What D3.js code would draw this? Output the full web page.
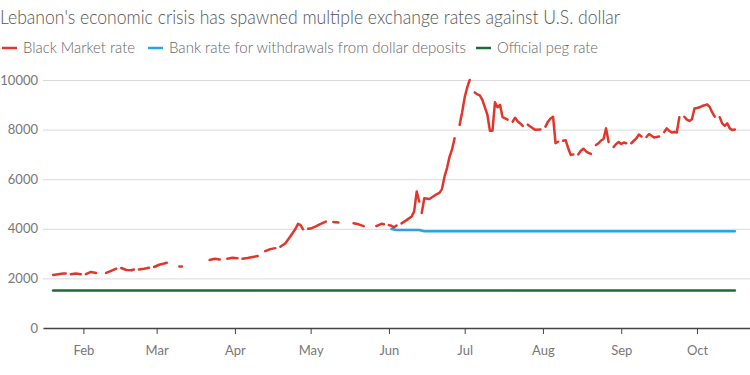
<!DOCTYPE html>
<html><head><meta charset="utf-8">
<script src="https://cdn.jsdelivr.net/npm/d3@7"></script>
<style>
body{margin:0;background:#fff;}
svg{display:block;font-family:Lato,"Open Sans",sans-serif;}
</style>
</head><body>
<svg id="chart" width="750" height="375"></svg>
<script>
// ---- data ----
const bmDates = [
"2020-01-20","2020-01-22","2020-01-24","2020-01-25","2020-01-26",
"2020-01-27","2020-01-29","2020-01-31","2020-02-01",
"2020-02-02","2020-02-04","2020-02-06","2020-02-08",
"2020-02-10","2020-02-12","2020-02-14","2020-02-15",
"2020-02-16","2020-02-18","2020-02-20","2020-02-21","2020-02-22",
"2020-02-23","2020-02-25","2020-02-27","2020-02-28",
"2020-02-29","2020-03-02","2020-03-04","2020-03-05","2020-03-07",
"2020-03-10","2020-03-11","2020-03-14",
"2020-03-22","2020-03-24","2020-03-26","2020-03-27",
"2020-03-29","2020-03-31","2020-04-02","2020-04-03",
"2020-04-04","2020-04-06","2020-04-08","2020-04-10","2020-04-11",
"2020-04-13","2020-04-15","2020-04-17","2020-04-18",
"2020-04-19","2020-04-21","2020-04-23","2020-04-25","2020-04-26","2020-04-27","2020-04-28","2020-04-29",
"2020-04-30","2020-05-01","2020-05-03","2020-05-05","2020-05-07","2020-05-08",
"2020-05-10","2020-05-12","2020-05-14",
"2020-05-18","2020-05-20","2020-05-22","2020-05-24",
"2020-05-27","2020-05-29","2020-05-30","2020-05-31",
"2020-06-01","2020-06-02","2020-06-03","2020-06-04","2020-06-05",
"2020-06-06","2020-06-08","2020-06-10","2020-06-11","2020-06-12","2020-06-13","2020-06-13T16:00Z",
"2020-06-14","2020-06-15","2020-06-17","2020-06-19","2020-06-20","2020-06-21","2020-06-22","2020-06-23","2020-06-24","2020-06-25","2020-06-26","2020-06-27","2020-06-28",
"2020-06-29","2020-06-30","2020-07-01","2020-07-02","2020-07-03","2020-07-04",
"2020-07-05","2020-07-06","2020-07-07","2020-07-08","2020-07-09","2020-07-10","2020-07-11","2020-07-12","2020-07-13","2020-07-14","2020-07-15","2020-07-16","2020-07-17","2020-07-18","2020-07-19",
"2020-07-20","2020-07-21","2020-07-22","2020-07-23","2020-07-24","2020-07-25",
"2020-07-26","2020-07-28","2020-07-29","2020-07-31","2020-08-01",
"2020-08-02","2020-08-03","2020-08-04","2020-08-05","2020-08-06","2020-08-07","2020-08-08",
"2020-08-09","2020-08-10","2020-08-11","2020-08-12","2020-08-13","2020-08-14",
"2020-08-15","2020-08-16","2020-08-17","2020-08-18","2020-08-19","2020-08-20","2020-08-21",
"2020-08-22","2020-08-23","2020-08-24","2020-08-25","2020-08-26","2020-08-27","2020-08-28",
"2020-08-29","2020-08-30","2020-08-31","2020-09-01","2020-09-02","2020-09-03","2020-09-04",
"2020-09-05","2020-09-06","2020-09-07","2020-09-08","2020-09-09","2020-09-10",
"2020-09-11","2020-09-12","2020-09-13","2020-09-14","2020-09-15","2020-09-16","2020-09-17",
"2020-09-18","2020-09-19","2020-09-20","2020-09-21","2020-09-22","2020-09-23","2020-09-24","2020-09-25",
"2020-09-26","2020-09-27","2020-09-28","2020-09-29","2020-09-30",
"2020-10-01","2020-10-02","2020-10-03","2020-10-04","2020-10-05","2020-10-06","2020-10-07","2020-10-08","2020-10-09",
"2020-10-10","2020-10-11","2020-10-12","2020-10-13","2020-10-14","2020-10-15","2020-10-16"
];
const bmValues = [
2140,2170,2200,2200,null,
2170,2200,2170,null,
2170,2260,2220,null,
2220,2300,2390,null,
2420,2340,2330,2360,null,
2360,2390,2430,null,
2460,2550,2600,2630,null,
2480,2480,null,
2740,2790,2760,null,
2790,2830,2810,null,
2790,2820,2860,2900,null,
3100,3180,3220,null,
3280,3420,3700,4000,4200,4150,3980,null,
4000,4010,4100,4200,4290,null,
4270,4250,null,
4220,4180,4110,null,
4110,4200,4180,null,
4150,4120,4060,4130,null,
4220,4350,4500,4700,5500,5100,null,
4640,5230,5200,5330,5400,5450,5600,6100,6450,6900,7200,7650,null,
8190,8700,9300,9700,10000,null,
9500,9420,9380,9200,8900,8600,7950,7950,9100,8900,9000,8500,8450,8400,null,
8320,8480,8330,8250,8150,null,
8200,8050,7990,8000,null,
8120,8320,8450,8520,7450,7510,null,
7550,7570,7250,6980,7000,null,
7000,7150,7230,7130,7060,7020,null,
7380,7450,7560,7620,8050,7500,null,
7300,7420,7500,7420,7480,7450,null,
7450,7550,7650,7800,7720,null,
7700,7820,7750,7680,7700,7720,null,
7900,8050,7950,7880,7900,7880,8500,null,
8520,8400,8350,8420,8850,
8870,8900,8950,8980,9020,8920,8700,8520,null,
8500,8250,8150,8250,8050,7980,8000
];
const bankDates = ["2020-06-02","2020-06-04","2020-06-13","2020-06-15","2020-10-16"];
const bankValues = [3990,3950,3950,3900,3900];
const pegDates = ["2020-01-20","2020-10-16"];
const pegValues = [1507.5,1507.5];
const yTicks = [0,2000,4000,6000,8000,10000];
const monthTicks = ["2020-02-01","2020-03-01","2020-04-01","2020-05-01","2020-06-01","2020-07-01","2020-08-01","2020-09-01","2020-10-01"];
const monthLabels = ["Feb","Mar","Apr","May","Jun","Jul","Aug","Sep","Oct"];
const seriesNames = ["Black Market rate","Bank rate for withdrawals from dollar deposits","Official peg rate"];
const seriesColors = ["#e2362c","#27a3e6","#1d6b35"];
const titleText = "Lebanon's economic crisis has spawned multiple exchange rates against U.S. dollar";

// ---- chart ----
const svg = d3.select("#chart");
const parse = s => d3.isoParse(s.length === 10 ? s + "T00:00Z" : s);
const x = d3.scaleUtc().domain([parse("2020-01-16"), parse("2020-10-22")]).range([43, 750]);
const y = d3.scaleLinear().domain([0, 10000]).range([328, 80]);

svg.append("text").attr("x", 0).attr("y", 24)
  .attr("font-size", 20).attr("font-weight", 300).attr("fill", "#555")
  .attr("textLength", 620).attr("lengthAdjust", "spacingAndGlyphs")
  .text(titleText);

// legend
const legendX = [2, 148, 476];
const legendW = [112, 297, 101];
seriesNames.forEach((n, i) => {
  const g = svg.append("g").attr("transform", `translate(${legendX[i]},48)`);
  g.append("line").attr("x1", 0).attr("x2", 15).attr("y1", 0).attr("y2", 0)
    .attr("stroke", seriesColors[i]).attr("stroke-width", 2.5);
  g.append("text").attr("x", 21).attr("y", 5).attr("font-size", 15).attr("font-weight", 300)
    .attr("fill", "#666").attr("textLength", legendW[i]).attr("lengthAdjust", "spacingAndGlyphs").text(n);
});

// y axis with gridlines
const yAxis = svg.append("g").attr("transform", "translate(43,0)")
  .call(d3.axisLeft(y).tickValues(yTicks).tickFormat(d3.format("d")).tickSize(-707).tickPadding(5));
yAxis.select(".domain").remove();
yAxis.selectAll(".tick line").attr("stroke", "#d9d9d9").attr("stroke-width", 1);
yAxis.selectAll(".tick text").attr("font-size", 13).attr("fill", "#777").attr("font-family", "Lato,sans-serif");

// x axis
const xAxis = svg.append("g").attr("transform", "translate(0,328)")
  .call(d3.axisBottom(x).tickValues(monthTicks.map(parse)).tickFormat((d, i) => monthLabels[i]).tickSize(6).tickSizeOuter(0).tickPadding(12));
xAxis.select(".domain").attr("stroke", "#444").attr("stroke-width", 1.5);
xAxis.selectAll(".tick line").attr("stroke", "#444");
xAxis.selectAll(".tick text").attr("font-size", 13).attr("fill", "#777").attr("font-family", "Lato,sans-serif");

// lines
const line = d3.line().defined(d => d[1] !== null).x(d => x(d[0])).y(d => y(d[1]));
const mk = (ds, vs) => ds.map((d, i) => [parse(d), vs[i]]);
const plot = (data, color) => svg.append("path").datum(data).attr("fill", "none")
  .attr("stroke", color).attr("stroke-width", 2.5).attr("stroke-linejoin", "round").attr("stroke-linecap", "round").attr("d", line);
plot(mk(pegDates, pegValues), seriesColors[2]);
plot(mk(bankDates, bankValues), seriesColors[1]);
plot(mk(bmDates, bmValues), seriesColors[0]);
</script>
</body></html>
